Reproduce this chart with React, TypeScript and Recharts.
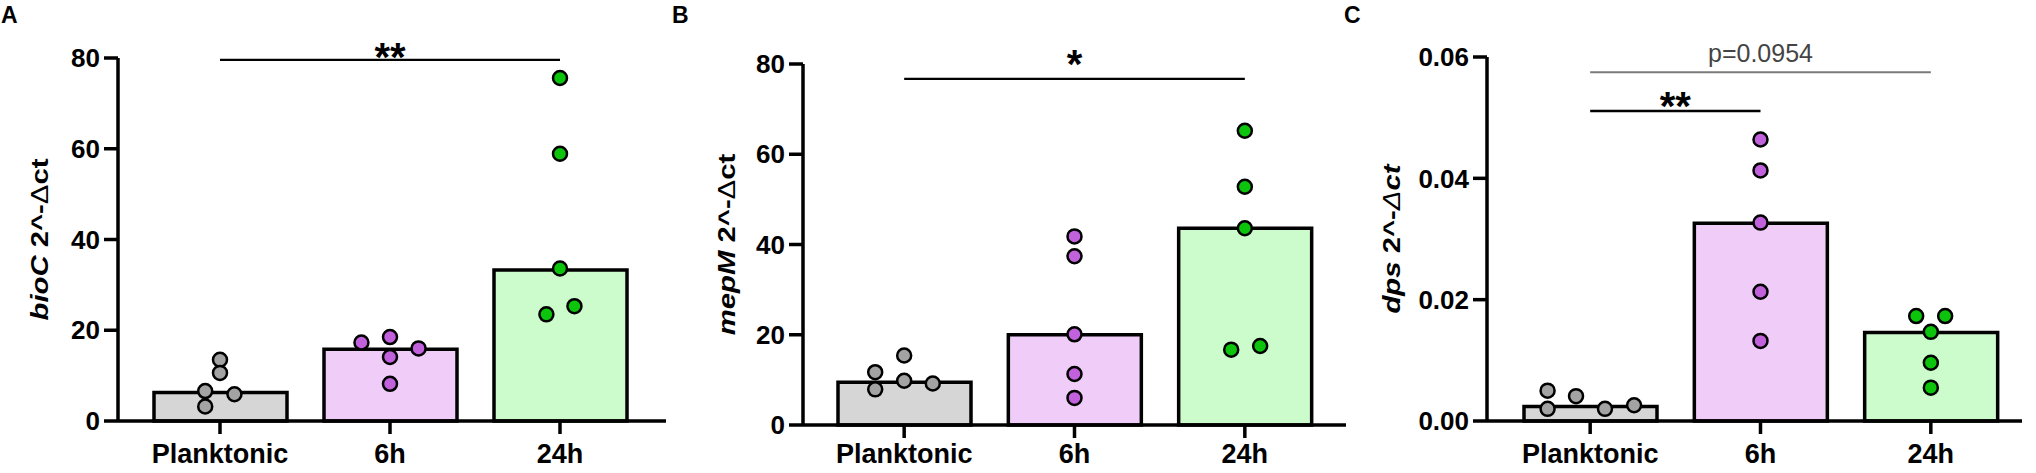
import React from 'react';
import {
  ComposedChart,
  Bar,
  Cell,
  Scatter,
  XAxis,
  YAxis,
  ReferenceLine,
} from 'recharts';

const FONT = '"Liberation Sans", Arial, Helvetica, sans-serif';

// ---------- data ----------
const categories = ['Planktonic', '6h', '24h'];
const barFills = ['#d6d6d6', '#f0cdf8', '#ccfccc'];
const dotFills = ['#a3a3a3', '#c261dc', '#0cc40c'];

// Panel A: bioC
const bioCMedians = [6.3, 15.8, 33.3];
const bioCPlanktonic = [13.5, 10.6, 6.6, 5.9, 3.2];
const bioC6h = [17.3, 18.5, 16.0, 14.1, 8.2];
const bioC24h = [75.6, 58.9, 33.6, 25.3, 23.5];
const bioCJitter = [
  [0, 0, -0.087, 0.085, -0.087],
  [-0.168, 0, 0.168, 0, 0],
  [0, 0, 0, 0.085, -0.08],
];
const bioCTicks = [0, 20, 40, 60, 80];

// Panel B: mepM
const mepMMedians = [9.5, 20.0, 43.6];
const mepMPlanktonic = [15.4, 11.7, 9.8, 9.2, 7.9];
const mepM6h = [41.8, 37.4, 20.1, 11.3, 6.0];
const mepM24h = [65.2, 52.8, 43.6, 17.5, 16.7];
const mepMJitter = [
  [0, -0.17, 0, 0.168, -0.17],
  [0, 0, 0, 0, 0],
  [0, 0, 0, 0.09, -0.08],
];
const mepMTicks = [0, 20, 40, 60, 80];

// Panel C: dps
const dpsMedians = [0.0024, 0.0326, 0.0146];
const dpsPlanktonic = [0.005, 0.0041, 0.002, 0.002, 0.0026];
const dps6h = [0.0464, 0.0413, 0.0327, 0.0213, 0.0132];
const dps24h = [0.0173, 0.0173, 0.0147, 0.0096, 0.0055];
const dpsJitter = [
  [-0.25, -0.083, -0.25, 0.087, 0.258],
  [0, 0, 0, 0, 0],
  [-0.086, 0.084, 0, 0, 0],
];
const dpsTicks = [0, 0.02, 0.04, 0.06];

// ---------- helpers ----------
type LabelPart = { text: string; italic?: boolean; light?: boolean };

function YLabel(props: any) {
  const vb = props.viewBox || { x: 0, y: 0, width: 0, height: 0 };
  const cx = vb.x + props.cx;
  const cy = vb.y + vb.height / 2;
  return (
    <text
      transform={`translate(${cx},${cy}) rotate(-90) scale(1.22,1)`}
      textAnchor="middle"
      dominantBaseline="central"
      fontFamily={FONT}
      fontWeight={700}
      fontSize={24}
      fill="#000"
    >
      {props.parts.map((p: LabelPart, i: number) => (
        <tspan
          key={i}
          fontStyle={p.italic ? 'italic' : 'normal'}
          fontWeight={p.light ? 400 : 700}
        >
          {p.text}
        </tspan>
      ))}
    </text>
  );
}

function Dot(color: string) {
  return (props: any) => (
    <circle
      cx={props.cx}
      cy={props.cy}
      r={7}
      fill={color}
      stroke="#000"
      strokeWidth={2.5}
    />
  );
}

type Sig = {
  from: number;
  to: number;
  y: number;
  text: string;
  stroke: string;
  width: number;
  label: any;
};

type PanelProps = {
  left: number;
  yAxisWidth: number;
  marginTop: number;
  marginBottom: number;
  padLeft: number;
  padRight: number;
  tickMargin: number;
  medians: number[];
  groups: number[][];
  jitter: number[][];
  ticks: number[];
  domain: [number, number];
  decimals: number;
  labelParts: LabelPart[];
  labelCx: number;
  sigs: Sig[];
};

function Panel(p: PanelProps) {
  const barData = categories.map((name, i) => ({ name, y: p.medians[i] }));
  const scatterData = p.groups.map((vals, gi) =>
    vals.map((v, k) => ({ x: gi + p.jitter[gi][k], y: v }))
  );
  const W = 680;
  const H = 473;
  const tickStyle = {
    fontFamily: FONT,
    fontWeight: 700,
    fontSize: 26,
    fill: '#000',
  };
  return (
    <div style={{ position: 'absolute', left: p.left, top: 0, width: W, height: H }}>
      <ComposedChart
        width={W}
        height={H}
        data={barData}
        margin={{ top: p.marginTop, right: 14, bottom: p.marginBottom, left: 0 }}
      >
        <XAxis
          xAxisId="cat"
          dataKey="name"
          type="category"
          height={40}
          padding={{ left: p.padLeft, right: p.padRight }}
          axisLine={{ stroke: '#000', strokeWidth: 3.5 }}
          tickLine={{ stroke: '#000', strokeWidth: 3.5 }}
          tickSize={13}
          tickMargin={p.tickMargin}
          tick={{ ...tickStyle, fontSize: 27 }}
          interval={0}
        />
        <XAxis
          xAxisId="num"
          dataKey="x"
          type="number"
          domain={[-0.5, 2.5]}
          padding={{ left: p.padLeft, right: p.padRight }}
          hide
        />
        <YAxis
          dataKey="y"
          width={p.yAxisWidth}
          domain={p.domain}
          ticks={p.ticks}
          interval={0}
          axisLine={{ stroke: '#000', strokeWidth: 3.5 }}
          tickLine={{ stroke: '#000', strokeWidth: 3.5 }}
          tickSize={14}
          tickMargin={4}
          tick={tickStyle}
          tickFormatter={(v: number) => v.toFixed(p.decimals)}
          label={<YLabel parts={p.labelParts} cx={p.labelCx} />}
        />
        <Bar
          xAxisId="cat"
          dataKey="y"
          barSize={133}
          stroke="#000"
          strokeWidth={3.5}
          isAnimationActive={false}
        >
          {barData.map((_, i) => (
            <Cell key={i} fill={barFills[i]} />
          ))}
        </Bar>
        {scatterData.map((d, gi) => (
          <Scatter
            key={gi}
            xAxisId="num"
            data={d}
            dataKey="y"
            shape={Dot(dotFills[gi])}
            isAnimationActive={false}
          />
        ))}
        {p.sigs.map((s, i) => (
          <ReferenceLine
            key={i}
            xAxisId="num"
            segment={[
              { x: s.from, y: s.y },
              { x: s.to, y: s.y },
            ]}
            stroke={s.stroke}
            strokeWidth={s.width}
            ifOverflow="visible"
            label={s.label}
          />
        ))}
      </ComposedChart>
    </div>
  );
}

const letterStyle: React.CSSProperties = {
  position: 'absolute',
  top: 2,
  fontFamily: FONT,
  fontWeight: 700,
  fontSize: 23,
  lineHeight: '26px',
  color: '#000',
};

const starLabel = (text: string, offset: number) => ({
  value: text,
  position: 'top',
  offset,
  fontFamily: FONT,
  fontWeight: 700,
  fontSize: 40,
  fill: '#000',
});

export default function App() {
  return (
    <div
      style={{
        position: 'absolute',
        left: 0,
        top: 0,
        width: 2036,
        height: 473,
        background: '#fff',
        overflow: 'hidden',
      }}
    >
      <Panel
        left={0}
        yAxisWidth={118}
        marginTop={58}
        marginBottom={12}
        padLeft={17}
        padRight={21}
        tickMargin={10}
        medians={bioCMedians}
        groups={[bioCPlanktonic, bioC6h, bioC24h]}
        jitter={bioCJitter}
        ticks={bioCTicks}
        domain={[0, 80]}
        decimals={0}
        labelParts={[
          { text: 'bioC', italic: true },
          { text: ' 2^-' },
          { text: 'Δ', light: true },
          { text: 'ct' },
        ]}
        labelCx={40}
        sigs={[
          { from: 0, to: 2, y: 79.6, text: '**', stroke: '#000', width: 2.3, label: starLabel('**', -11) },
        ]}
      />
      <Panel
        left={680}
        yAxisWidth={123}
        marginTop={64}
        marginBottom={8}
        padLeft={16}
        padRight={16}
        tickMargin={6}
        medians={mepMMedians}
        groups={[mepMPlanktonic, mepM6h, mepM24h]}
        jitter={mepMJitter}
        ticks={mepMTicks}
        domain={[0, 80]}
        decimals={0}
        labelParts={[
          { text: 'mepM', italic: true },
          { text: ' 2^-' },
          { text: 'Δ', light: true },
          { text: 'ct' },
        ]}
        labelCx={47}
        sigs={[
          { from: 0, to: 2, y: 76.7, text: '*', stroke: '#000', width: 2.3, label: starLabel('*', 1) },
        ]}
      />
      <Panel
        left={1356}
        yAxisWidth={131}
        marginTop={57}
        marginBottom={12}
        padLeft={18}
        padRight={6}
        tickMargin={10}
        medians={dpsMedians}
        groups={[dpsPlanktonic, dps6h, dps24h]}
        jitter={dpsJitter}
        ticks={dpsTicks}
        domain={[0, 0.06]}
        decimals={2}
        labelParts={[
          { text: 'dps', italic: true },
          { text: ' 2^-' },
          { text: 'Δ', italic: true, light: true },
          { text: 'ct', italic: true },
        ]}
        labelCx={36}
        sigs={[
          {
            from: 0,
            to: 2,
            y: 0.0575,
            text: 'p=0.0954',
            stroke: '#7a7a7a',
            width: 2,
            label: {
              value: 'p=0.0954',
              position: 'top',
              offset: 10,
              fontFamily: FONT,
              fontWeight: 400,
              fontSize: 25,
              fill: '#444',
            },
          },
          { from: 0, to: 1, y: 0.0511, text: '**', stroke: '#000', width: 2.5, label: starLabel('**', -9) },
        ]}
      />
      <div style={{ ...letterStyle, left: 1 }}>A</div>
      <div style={{ ...letterStyle, left: 672 }}>B</div>
      <div style={{ ...letterStyle, left: 1344 }}>C</div>
    </div>
  );
}
